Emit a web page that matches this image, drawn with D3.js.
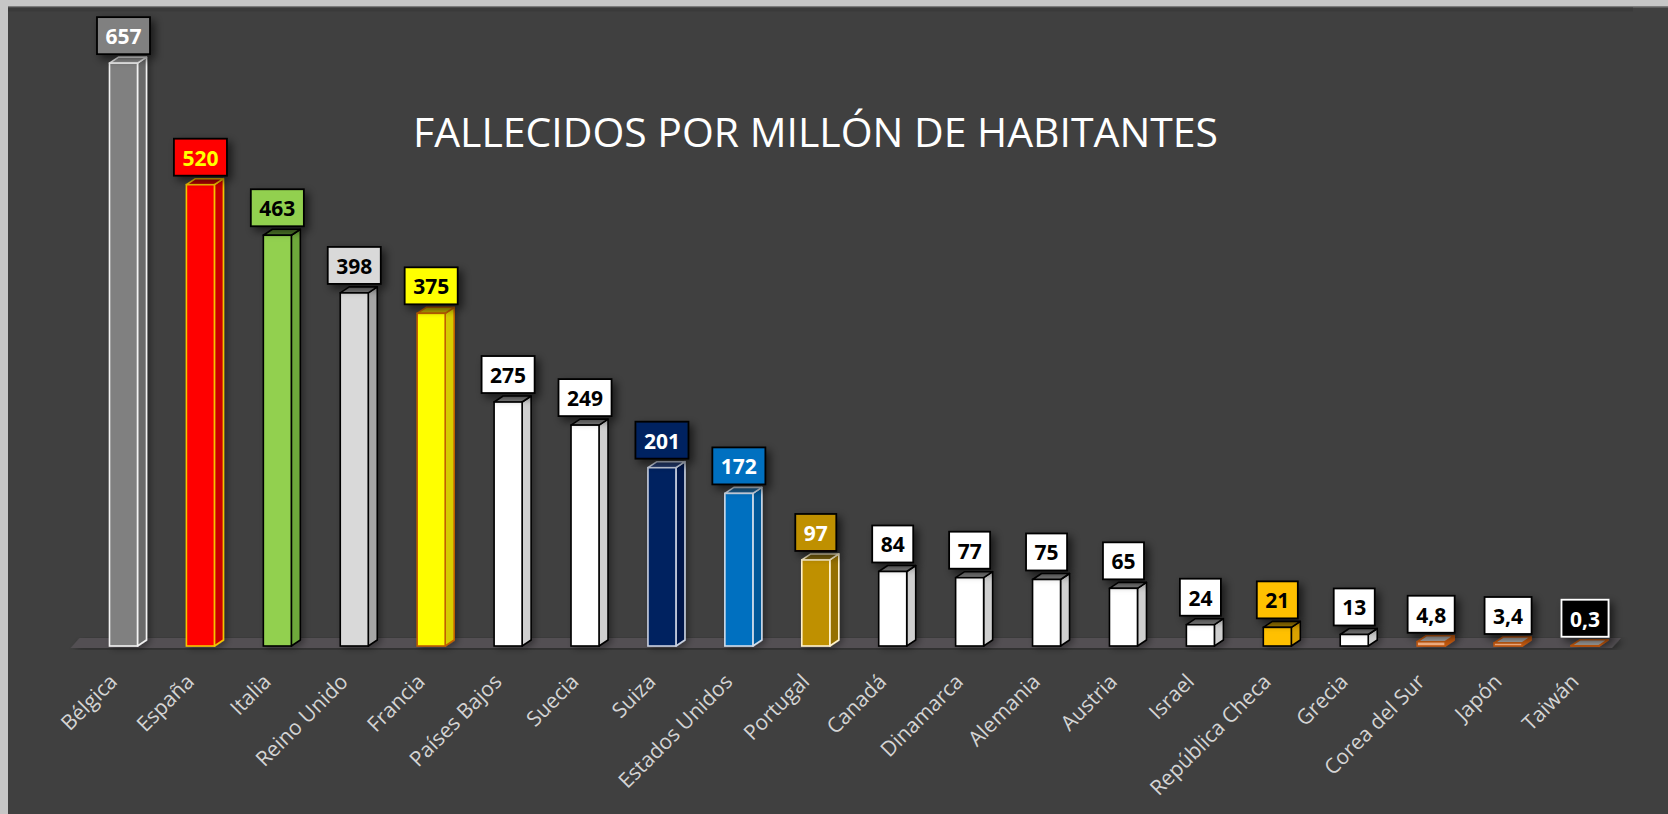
<!DOCTYPE html>
<html>
<head>
<meta charset="utf-8">
<script src="https://cdn.jsdelivr.net/npm/d3@7"></script>
<style>
  body { margin: 0; background: #404040; }
  svg { display: block; }
</style>
</head>
<body>
<div class="chart"></div>
<script>
// data
const countries = ["Bélgica", "España", "Italia", "Reino Unido", "Francia", "Países Bajos",
  "Suecia", "Suiza", "Estados Unidos", "Portugal", "Canadá", "Dinamarca", "Alemania",
  "Austria", "Israel", "República Checa", "Grecia", "Corea del Sur", "Japón", "Taiwán"];
const values = [657, 520, 463, 398, 375, 275, 249, 201, 172, 97, 84, 77, 75, 65, 24, 21, 13, 4.8, 3.4, 0.3];
const yTicks = [0, 700];

// bar look per country: front, side, top, edge, label box fill, label text
const looks = {
  "Bélgica":        ["#808080", "#6a6a6a", "#8c8c8c", "#f2f2f2", "#808080", "#ffffff"],
  "España":         ["#ff0000", "#c80000", "#b00000", "#f5c400", "#ff0000", "#ffff00"],
  "Italia":         ["#92d050", "#6ea83a", "#4f7a2a", "#000000", "#92d050", "#000000"],
  "Reino Unido":    ["#d9d9d9", "#a6a6a6", "#7a7a7a", "#000000", "#d9d9d9", "#000000"],
  "Francia":        ["#ffff00", "#d6cc00", "#b8a800", "#c06000", "#ffff00", "#000000"],
  "Suiza":          ["#002060", "#001848", "#23386a", "#c8d0e0", "#002060", "#ffffff"],
  "Estados Unidos": ["#0070c0", "#005898", "#1f5f90", "#d0dcea", "#0070c0", "#ffffff"],
  "Portugal":       ["#bf9000", "#957000", "#7a6010", "#fff2cc", "#bf9000", "#ffffff"],
  "República Checa":["#ffc000", "#d9a200", "#a07a00", "#000000", "#ffc000", "#000000"],
  "Corea del Sur":  ["#f4b183", "#c55a11", "#a6a6a6", "#c55a11", "#ffffff", "#000000"],
  "Japón":          ["#f4b183", "#c55a11", "#a6a6a6", "#c55a11", "#ffffff", "#000000"],
  "Taiwán":         ["#f4b183", "#c55a11", "#a6a6a6", "#c55a11", "#000000", "#ffffff"]
};
const defaultLook = ["#ffffff", "#cfcfcf", "#7f7f7f", "#000000", "#ffffff", "#000000"];

const data = countries.map((c, i) => {
  const l = looks[c] || defaultLook;
  return { country: c, value: values[i], front: l[0], side: l[1], top: l[2], edge: l[3], box: l[4], ink: l[5] };
});

const width = 1668, height = 814;
const depthX = 9, depthY = 6, barW = 28;

const svg = d3.select(".chart")
  .append("svg")
  .attr("width", width)
  .attr("height", height);

const defs = svg.append("defs");
defs.append("filter")
  .attr("id", "shadow")
  .attr("x", "-30%").attr("y", "-30%").attr("width", "180%").attr("height", "180%")
  .append("feDropShadow")
  .attr("dx", 4).attr("dy", 4).attr("stdDeviation", 4)
  .attr("flood-color", "#000").attr("flood-opacity", 0.6);
defs.append("filter")
  .attr("id", "barshadow")
  .attr("x", "-30%").attr("y", "-10%").attr("width", "180%").attr("height", "130%")
  .append("feDropShadow")
  .attr("dx", 3).attr("dy", 2).attr("stdDeviation", 3)
  .attr("flood-color", "#000").attr("flood-opacity", 0.35);

// spreadsheet edges
svg.append("rect").attr("width", width).attr("height", height).attr("fill", "#404040");
svg.append("rect").attr("x", 0).attr("y", 0).attr("width", 8).attr("height", height).attr("fill", "#c6c6c6");
svg.append("rect").attr("x", 0).attr("y", 0).attr("width", width).attr("height", 6).attr("fill", "#c6c6c6");
svg.append("rect").attr("x", 8).attr("y", 6).attr("width", width).attr("height", 1.5).attr("fill", "#7c7c7c");
svg.append("rect").attr("x", 8).attr("y", 7.5).attr("width", 1625).attr("height", 4).attr("fill", "#3a3a3a");

const x = d3.scalePoint()
  .domain(countries)
  .range([123.5, 1585]);

const y = d3.scaleLinear()
  .domain(d3.extent(yTicks))
  .range([646, 25]);

// floor
const x0 = x(countries[0]) - 53, x1 = x(countries[countries.length - 1]) + 27;
svg.append("path")
  .attr("d", `M${x0},${y(0) + 2} L${x1},${y(0) + 2} L${x1 + depthX},${y(0) - 8} L${x0 + depthX},${y(0) - 8} Z`)
  .attr("fill", "#524f52")
  .attr("filter", "url(#barshadow)");

// title
svg.append("text")
  .text("FALLECIDOS POR MILLÓN DE HABITANTES")
  .attr("x", 413)
  .attr("y", 147)
  .attr("textLength", 805)
  .attr("lengthAdjust", "spacingAndGlyphs")
  .style("font-family", "'Open Sans', sans-serif")
  .style("font-size", "41px")
  .attr("fill", "#ffffff");

// bars
const bar = svg.selectAll("g.bar")
  .data(data)
  .join("g")
  .attr("class", "bar")
  .attr("filter", "url(#barshadow)");

bar.append("path") // side
  .attr("d", d => {
    const bx = x(d.country) + barW / 2, t = y(d.value), b = y(0);
    return `M${bx},${t} L${bx + depthX},${t - depthY} L${bx + depthX},${b - depthY} L${bx},${b} Z`;
  })
  .attr("fill", d => d.side)
  .attr("stroke", d => d.edge)
  .attr("stroke-width", 1.6)
  .attr("stroke-linejoin", "round");

bar.append("path") // top
  .attr("d", d => {
    const bx = x(d.country) - barW / 2, t = y(d.value);
    return `M${bx},${t} L${bx + depthX},${t - depthY} L${bx + barW + depthX},${t - depthY} L${bx + barW},${t} Z`;
  })
  .attr("fill", d => d.top)
  .attr("stroke", d => d.edge)
  .attr("stroke-width", 1.6)
  .attr("stroke-linejoin", "round");

bar.append("rect") // front
  .attr("x", d => x(d.country) - barW / 2)
  .attr("y", d => y(d.value))
  .attr("width", barW)
  .attr("height", d => y(0) - y(d.value))
  .attr("fill", d => d.front)
  .attr("stroke", d => d.edge)
  .attr("stroke-width", 1.6);

// value labels
const label = svg.selectAll("g.label")
  .data(data)
  .join("g")
  .attr("class", "label")
  .attr("transform", d => `translate(${x(d.country)}, ${y(d.value) - depthY - 3})`);

const boxRect = label.append("rect")
  .attr("fill", d => d.box)
  .attr("stroke", d => d.country === "Taiwán" ? "#ffffff" : "#000000")
  .attr("stroke-width", 1.8)
  .attr("filter", "url(#shadow)");

const boxText = label.append("text")
  .text(d => String(d.value).replace(".", ","))
  .attr("x", 0)
  .attr("y", -10)
  .attr("text-anchor", "middle")
  .attr("fill", d => d.ink)
  .style("font-family", "'Open Sans', sans-serif")
  .style("font-weight", "700")
  .style("font-size", "21px");

boxText.each(function (d) { d.tw = this.getComputedTextLength(); });
boxRect
  .attr("x", d => -(d.tw + 17) / 2)
  .attr("y", -37)
  .attr("width", d => d.tw + 17)
  .attr("height", 37);

// category labels
svg.selectAll("text.cat")
  .data(countries)
  .join("text")
  .attr("class", "cat")
  .text(d => d)
  .attr("text-anchor", "end")
  .attr("transform", d => `translate(${x(d) - 5}, 683) rotate(-45)`)
  .attr("fill", "#d4d4d4")
  .style("font-family", "'Open Sans', sans-serif")
  .style("font-size", "21px");
</script>
</body>
</html>
